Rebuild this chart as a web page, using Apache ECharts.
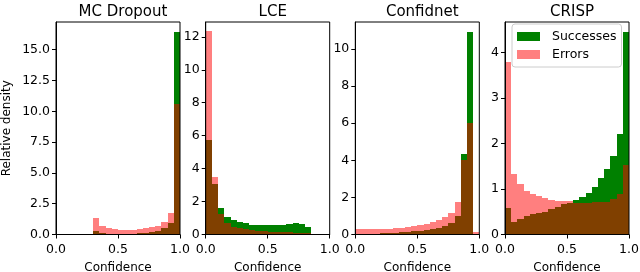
<!DOCTYPE html>
<html><head><meta charset="utf-8">
<script src="https://cdn.jsdelivr.net/npm/echarts@6/dist/echarts.min.js"></script>
<style>html,body{margin:0;padding:0;background:#fff}#c{width:640px;height:272px}</style>
</head><body><div id="c"></div>
<script>
const panelTitles = ['MC Dropout', 'LCE', 'Confidnet', 'CRISP'];
const binEdges = [0.00,0.05,0.10,0.15,0.20,0.25,0.30,0.35,0.40,0.45,0.50,0.55,0.60,0.65,0.70,0.75,0.80,0.85,0.90,0.95,1.00];

const mcSuccesses = [0,0,0,0,0,0,0.30,0.13,0.08,0.07,0.07,0.07,0.08,0.10,0.12,0.18,0.27,0.55,0.90,16.45];
const mcErrors    = [0,0,0,0,0,0,1.33,0.68,0.50,0.45,0.40,0.40,0.40,0.45,0.50,0.58,0.72,1.00,1.78,10.60];

const lceSuccesses = [5.72,3.08,1.60,1.08,0.90,0.75,0.68,0.60,0.56,0.55,0.55,0.55,0.55,0.62,0.70,0.62,0.47,0.05,0,0];
const lceErrors    = [12.33,3.50,1.22,0.68,0.48,0.38,0.31,0.26,0.22,0.20,0.18,0.16,0.14,0.13,0.12,0.10,0.08,0.02,0,0];

const cnSuccesses = [0.05,0.05,0.05,0.05,0.06,0.07,0.09,0.12,0.14,0.17,0.20,0.25,0.30,0.37,0.47,0.64,1.00,4.32,10.93,0];
const cnErrors    = [0.27,0.27,0.27,0.27,0.30,0.32,0.33,0.36,0.40,0.44,0.50,0.58,0.66,0.78,0.92,1.15,1.75,4.04,6.00,0.12];

const crSuccesses = [0.58,0.27,0.34,0.40,0.45,0.47,0.50,0.55,0.60,0.66,0.70,0.75,0.82,0.92,1.05,1.24,1.44,1.73,2.21,4.45];
const crErrors    = [3.80,1.32,1.11,0.96,0.88,0.85,0.80,0.75,0.73,0.73,0.73,0.70,0.70,0.70,0.72,0.72,0.72,0.77,0.89,1.53];

const xTicks = [0, 0.5, 1.0];
const yTicks = [
  [0, 2.5, 5.0, 7.5, 10.0, 12.5, 15.0],
  [0, 2, 4, 6, 8, 10, 12],
  [0, 2, 4, 6, 8, 10],
  [0, 1, 2, 3, 4]
];
const yMax = [17.25, 12.9, 11.45, 4.67];
const successes = [mcSuccesses, lceSuccesses, cnSuccesses, crSuccesses];
const errors = [mcErrors, lceErrors, cnErrors, crErrors];

const FONT = 'DejaVu Sans';
const lefts = [56, 205.7, 355.3, 505];
const W = 124;

function toBins(vals) {
  const out = [];
  for (let i = 0; i < vals.length; i++) {
    if (vals[i] > 0) out.push([binEdges[i], binEdges[i + 1], vals[i]]);
  }
  return out;
}
function makeRender(color) {
  return function (params, api) {
    const p0 = api.coord([api.value(0), 0]);
    const p1 = api.coord([api.value(1), api.value(2)]);
    const x0 = Math.round(p0[0]), x1 = Math.round(p1[0]);
    const yb = Math.round(p0[1]), yt = Math.round(p1[1]);
    return { type: 'rect', shape: { x: x0, y: yt, width: x1 - x0, height: yb - yt }, style: { fill: color } };
  };
}

const grid = [], xAxis = [], yAxis = [], series = [], title = [];
for (let k = 0; k < 4; k++) {
  grid.push({ left: lefts[k], width: W, top: 22, bottom: 37.5, show: true, borderColor: '#000', borderWidth: 1,
    backgroundColor: 'transparent', z: 5, containLabel: false, outerBoundsMode: 'none' });
  title.push({ text: panelTitles[k], left: lefts[k] + W / 2, top: 0, textAlign: 'center',
    textStyle: { fontFamily: FONT, fontSize: 15, fontWeight: 'normal', color: '#000' } });
  xAxis.push({ type: 'value', gridIndex: k, min: 0, max: 1,
    name: 'Confidence', nameLocation: 'middle', nameGap: 27,
    nameTextStyle: { fontFamily: FONT, fontSize: 12, color: '#000' },
    axisLine: { show: true, lineStyle: { color: '#000', width: 1 } },
    axisTick: { show: true, length: 4, lineStyle: { color: '#000' }, customValues: xTicks },
    axisLabel: { fontFamily: FONT, fontSize: 12.5, color: '#000', margin: 9, customValues: xTicks,
      formatter: v => v.toFixed(1) },
    splitLine: { show: false }, z: 6 });
  yAxis.push({ type: 'value', gridIndex: k, min: 0, max: yMax[k],
    name: k === 0 ? 'Relative density' : '', nameLocation: 'middle', nameGap: 43,
    nameTextStyle: { fontFamily: FONT, fontSize: 12, color: '#000' },
    axisLine: { show: true, lineStyle: { color: '#000', width: 1 } },
    axisTick: { show: true, length: 4, lineStyle: { color: '#000' }, customValues: yTicks[k] },
    axisLabel: { fontFamily: FONT, fontSize: 12.5, color: '#000', margin: 6, customValues: yTicks[k],
      formatter: v => (k === 0 ? v.toFixed(1) : String(v)) },
    splitLine: { show: false }, z: 6 });
  series.push({ type: 'custom', name: 'Successes', xAxisIndex: k, yAxisIndex: k,
    itemStyle: { color: '#008000' }, renderItem: makeRender('#008000'),
    encode: { x: [0, 1], y: 2 }, data: toBins(successes[k]), animation: false });
  series.push({ type: 'custom', name: 'Errors', xAxisIndex: k, yAxisIndex: k,
    itemStyle: { color: 'rgba(255,0,0,0.5)' }, renderItem: makeRender('rgba(255,0,0,0.5)'),
    encode: { x: [0, 1], y: 2 }, data: toBins(errors[k]), animation: false });
}

const chart = echarts.init(document.getElementById('c'), null, { renderer: 'canvas' });
chart.setOption({
  animation: false,
  backgroundColor: '#fff',
  title, grid, xAxis, yAxis, series,
  legend: { data: ['Successes', 'Errors'], orient: 'vertical', left: 512, top: 24,
    itemWidth: 23, itemHeight: 9, itemGap: 5, padding: [6, 5, 6, 5], icon: 'rect',
    backgroundColor: 'rgba(255,255,255,0.8)', borderColor: '#cccccc', borderWidth: 1, borderRadius: 3,
    selectedMode: false,
    textStyle: { fontFamily: FONT, fontSize: 12.5, color: '#000', padding: [0, 0, 0, 7] } }
});
</script></body></html>
